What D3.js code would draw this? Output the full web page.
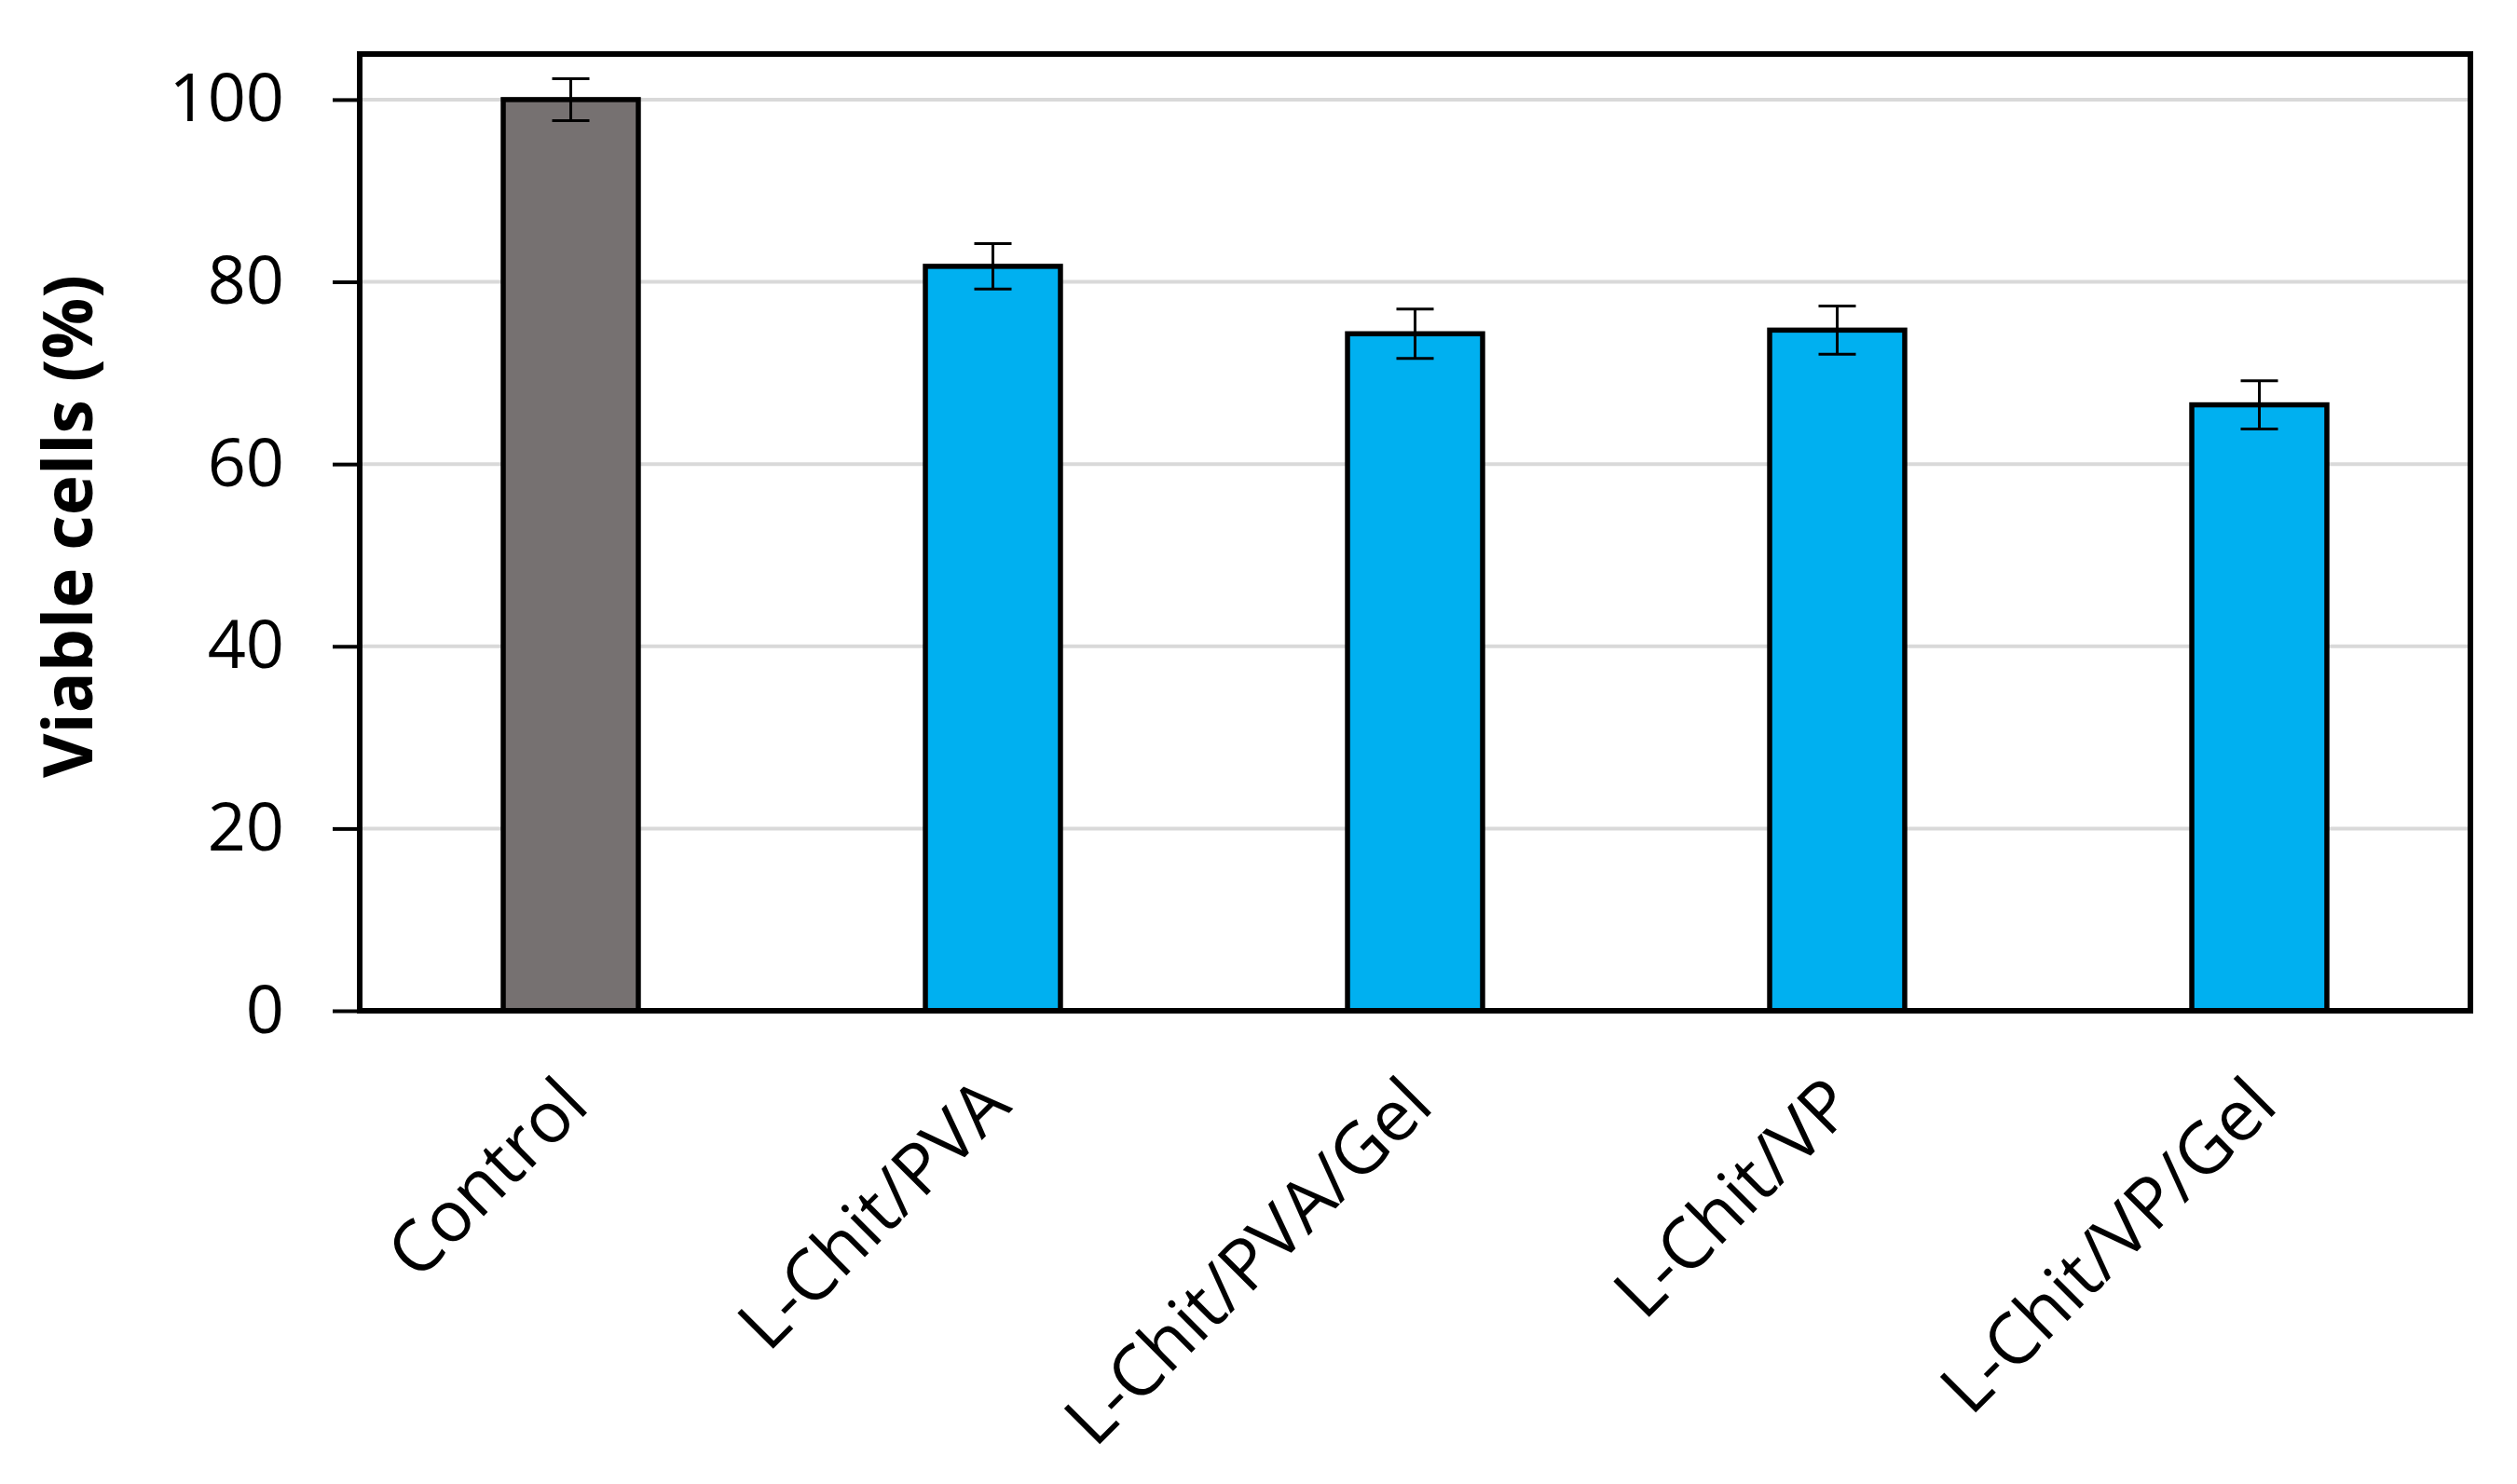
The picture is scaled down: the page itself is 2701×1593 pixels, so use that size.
<!DOCTYPE html>
<html>
<head>
<meta charset="utf-8">
<script src="https://cdn.jsdelivr.net/npm/d3@7"></script>
<style>
  body { margin: 0; background: #fff; }
  svg { display: block; }
</style>
</head>
<body>
<svg width="2701" height="1593"></svg>
<script>
// data
const categories = ["Control", "L-Chit/PVA", "L-Chit/PVA/Gel", "L-Chit/VP", "L-Chit/VP/Gel"];
const viable = [100.0, 81.7, 74.3, 74.7, 66.5];
const errors = [2.3, 2.5, 2.7, 2.65, 2.65];
const barColors = ["#767171", "#00B0F0", "#00B0F0", "#00B0F0", "#00B0F0"];
const yTicks = [0, 20, 40, 60, 80, 100];

const svg = d3.select("svg");

const plotLeft = 386,
  plotRight = 2651,
  plotTop = 58,
  plotBottom = 1085;

const x = d3
  .scaleBand()
  .domain(categories)
  .range([plotLeft, plotRight])
  .paddingInner(0.68)
  .paddingOuter(0.34);

const y = d3.scaleLinear().domain([0, 105]).range([plotBottom, plotTop]);

// gridlines
svg
  .append("g")
  .selectAll("line")
  .data(yTicks.filter((d) => d > 0))
  .enter()
  .append("line")
  .attr("x1", plotLeft)
  .attr("x2", plotRight)
  .attr("y1", (d) => y(d))
  .attr("y2", (d) => y(d))
  .attr("stroke", "#D9D9D9")
  .attr("stroke-width", 4);

// bars
const rows = categories.map((c, i) => ({ c: c, v: viable[i], e: errors[i], col: barColors[i] }));

svg
  .append("g")
  .selectAll("rect")
  .data(rows)
  .enter()
  .append("rect")
  .attr("x", (d) => x(d.c))
  .attr("y", (d) => y(d.v))
  .attr("width", x.bandwidth())
  .attr("height", (d) => y(0) - y(d.v))
  .attr("fill", (d) => d.col)
  .attr("stroke", "#000")
  .attr("stroke-width", 5.5);

// error bars
const err = svg.append("g").attr("stroke", "#000").attr("stroke-width", 3);
const cx = (d) => x(d.c) + x.bandwidth() / 2;

err
  .selectAll(".stem")
  .data(rows)
  .enter()
  .append("line")
  .attr("x1", cx)
  .attr("x2", cx)
  .attr("y1", (d) => y(d.v + d.e))
  .attr("y2", (d) => y(d.v - d.e));

err
  .selectAll(".cap")
  .data(rows.flatMap((d) => [{ c: d.c, yv: d.v + d.e }, { c: d.c, yv: d.v - d.e }]))
  .enter()
  .append("line")
  .attr("x1", (d) => cx(d) - 20)
  .attr("x2", (d) => cx(d) + 20)
  .attr("y1", (d) => y(d.yv))
  .attr("y2", (d) => y(d.yv));

// frame
svg
  .append("rect")
  .attr("x", plotLeft)
  .attr("y", plotTop)
  .attr("width", plotRight - plotLeft)
  .attr("height", plotBottom - plotTop)
  .attr("fill", "none")
  .attr("stroke", "#000")
  .attr("stroke-width", 6);

// y axis
const yAxis = svg
  .append("g")
  .attr("transform", `translate(${plotLeft},0)`)
  .call(d3.axisLeft(y).tickValues(yTicks).tickSize(29).tickPadding(52));

yAxis.select(".domain").remove();
yAxis.selectAll(".tick line").attr("stroke", "#000").attr("stroke-width", 4);
yAxis
  .selectAll(".tick text")
  .attr("fill", "#000")
  .attr("font-family", "'Open Sans', sans-serif")
  .attr("font-size", 72);

// x labels
svg
  .append("g")
  .selectAll("text")
  .data(categories)
  .enter()
  .append("text")
  .attr("transform", (d) => `translate(${x(d) + x.bandwidth() / 2 + 22},1190) rotate(-45)`)
  .attr("text-anchor", "end")
  .attr("font-family", "'Open Sans', sans-serif")
  .attr("font-size", 76)
  .attr("fill", "#000")
  .text((d) => d);

// y title
svg
  .append("text")
  .attr("transform", "translate(70,565) rotate(-90)")
  .attr("text-anchor", "middle")
  .attr("dominant-baseline", "central")
  .attr("font-family", "'Open Sans', sans-serif")
  .attr("font-weight", "bold")
  .attr("font-size", 73)
  .attr("fill", "#000")
  .text("Viable cells (%)");
</script>
</body>
</html>
